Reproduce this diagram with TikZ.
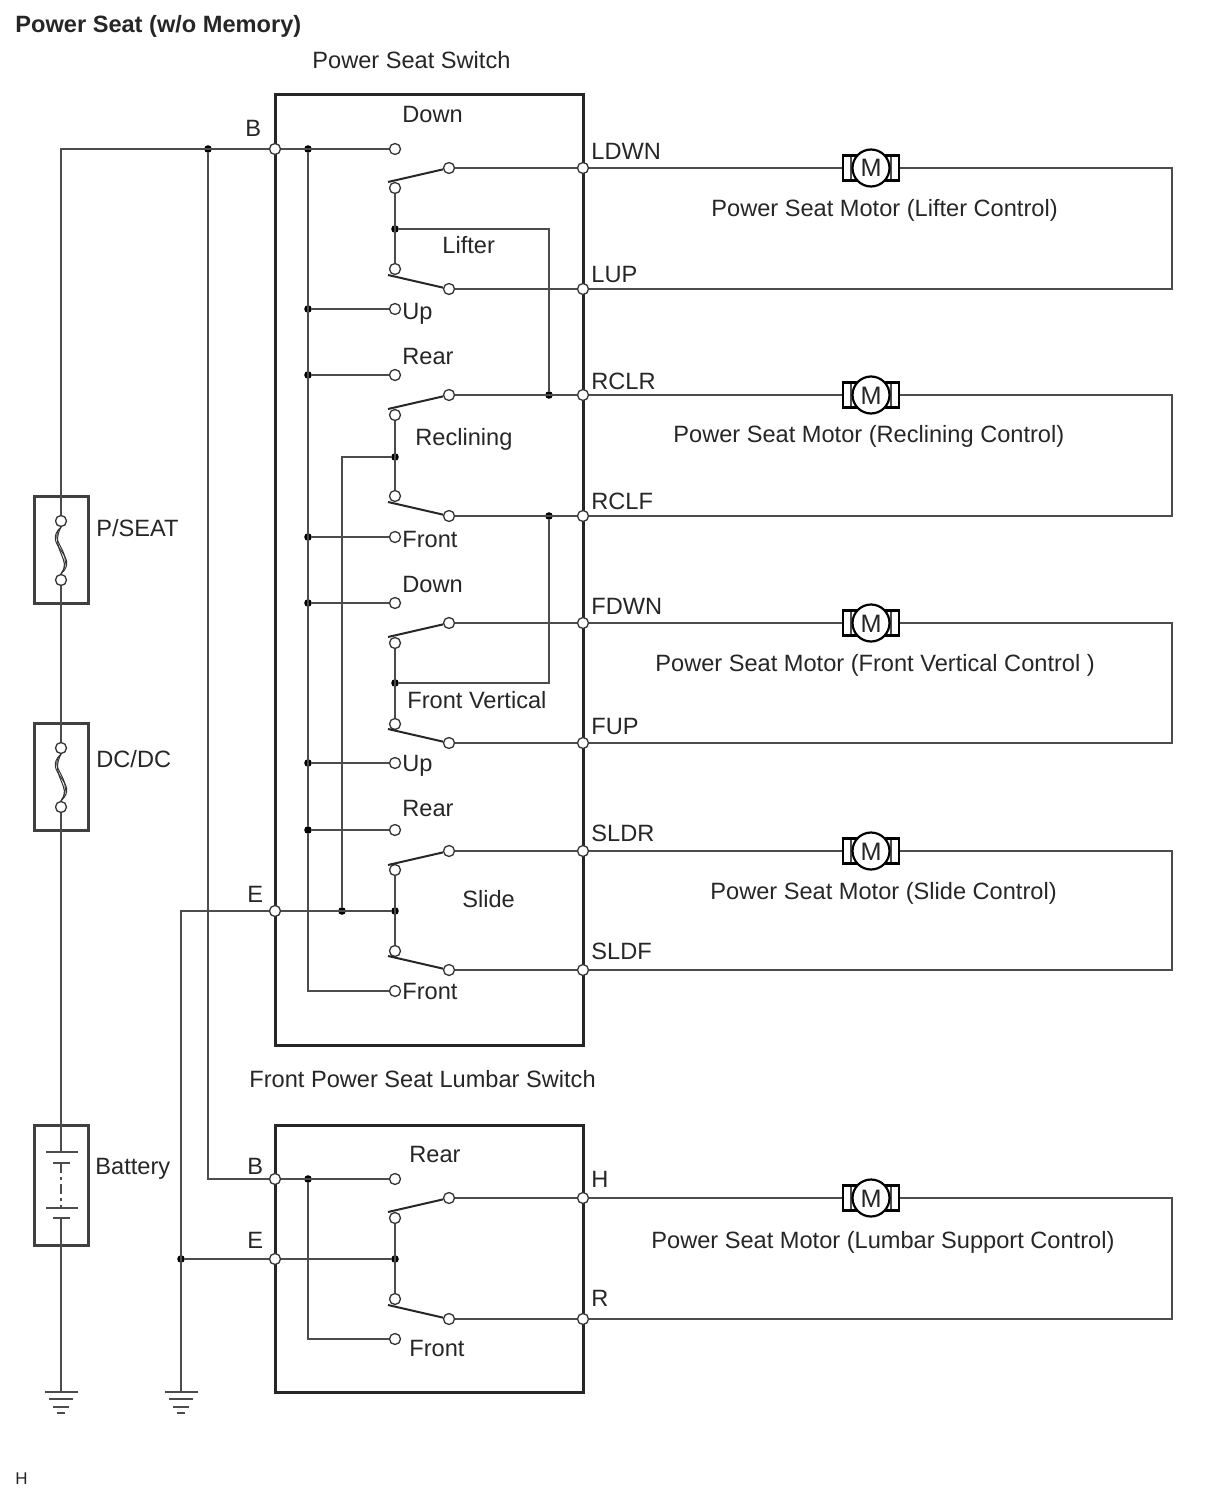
\documentclass[tikz,border=0pt]{standalone}
\usepackage{fontspec}
\setmainfont{Liberation Sans}
\begin{document}
\begin{tikzpicture}[x=0.5pt,y=-0.5pt]
\tikzset{term/.style = {shape=circle,draw=black!80,fill=white,line width=0.65pt,inner sep=0pt,minimum size=5.5pt}}
\tikzset{joint/.style = {shape=circle,fill=black,inner sep=0pt,minimum size=3.8pt}}
\tikzset{wire/.style = {draw=black!70,line width=1pt}}
\tikzset{arm/.style = {draw=black!85,line width=1pt}}
\tikzset{frame/.style = {draw=black!85,line width=1.5pt,inner sep=0pt}}
\tikzset{lbl/.style = {inner sep=0pt,text height=8.4pt,text depth=0pt,text=black!85,font=\fontsize{11.8}{13}\selectfont}}
\tikzset{left lbl/.style = {lbl,anchor=west}}
\tikzset{motor/.style = {shape=circle,draw=black,fill=white,line width=1.1pt,inner sep=0pt,minimum size=18.5pt,lbl,text height=9pt,font=\fontsize{12.6}{13}\selectfont}}
\tikzset{brush/.style = {draw=black,fill=white,line width=1.1pt,minimum width=28pt,minimum height=12.5pt,inner sep=0pt,
  path picture={\draw[black!70,line width=0.6pt] ([xshift=4pt]path picture bounding box.north west) -- ([xshift=4pt]path picture bounding box.south west);
  \draw[black!70,line width=0.6pt] ([xshift=-4pt]path picture bounding box.north east) -- ([xshift=-4pt]path picture bounding box.south east);}}}
\tikzset{earth/.style = {draw=black!70,line width=0.8pt}}
\useasboundingbox (0,0) rectangle (1210,1498);
% titles
\node[left lbl,font=\fontsize{11.8}{13}\selectfont\bfseries] (title) at (15,24) {Power Seat (w/o Memory)};
\node[left lbl] (swname) at (312,60) {Power Seat Switch};
\node[left lbl] (lumbname) at (249,1079) {Front Power Seat Lumbar Switch};
\node[left lbl,font=\fontsize{8.5}{10}\selectfont,text height=6pt] (code) at (15,1478) {H};
% switch boxes
\node[frame,minimum width=154pt,minimum height=475pt] (mainbox) at (429,570) {};
\node[frame,minimum width=154pt,minimum height=133.5pt] (lumbbox) at (429,1258.5) {};
% fuses and battery
\node[frame,draw=black!75,minimum width=27pt,minimum height=53.5pt] (fuse1) at (61,549.5) {};
\node[frame,draw=black!75,minimum width=27pt,minimum height=53.5pt] (fuse2) at (61,776.5) {};
\node[frame,draw=black!75,minimum width=27pt,minimum height=60pt] (batbox) at (61,1185) {};
\node[left lbl] (fuse1name) at (96,528) {P/SEAT};
\node[left lbl] (fuse2name) at (96,759) {DC/DC};
\node[left lbl] (batname) at (95,1166) {Battery};
\node[term] (f1a) at (61,521) {};
\node[term] (f1b) at (61,580) {};
\node[term] (f2a) at (61,748) {};
\node[term] (f2b) at (61,807) {};
\coordinate (bat1) at (61,1152);
\coordinate (bat2) at (61,1163);
\coordinate (bat3) at (61,1208);
\coordinate (bat4) at (61,1218);
\coordinate (gnd1) at (61,1392);
\coordinate (gnd2) at (181,1392);
% terminals on the left of the boxes
\node[left lbl] (bname) at (245,128) {B};
\node[left lbl] (ename) at (247,894) {E};
\node[left lbl] (b2name) at (247,1166) {B};
\node[left lbl] (e2name) at (247,1240) {E};
\node[term] (bt) at (275,149) {};
\node[term] (et) at (275,911) {};
\node[term] (b2t) at (275,1179) {};
\node[term] (e2t) at (275,1259) {};
\coordinate (bcorner) at (61,149);
\coordinate (ecorner) at (181,911);
\node[joint] (jb) at (208,149) {};
\node[joint] (je2) at (181,1259) {};
% common bus inside the main switch
\node[joint] (p1) at (308,149) {};
\node[joint] (p2) at (308,309) {};
\node[joint] (p3) at (308,375) {};
\node[joint] (p4) at (308,537) {};
\node[joint] (p5) at (308,603) {};
\node[joint] (p6) at (308,763) {};
\node[joint] (p7) at (308,830) {};
\node[joint] (jeb) at (342,911) {};
\node[joint] (jes) at (395,911) {};
% lifter
\node[left lbl] (n1) at (402,114) {Down};
\node[left lbl] (n2) at (402,311) {Up};
\node[left lbl] (lifter) at (442,245) {Lifter};
\node[left lbl] (ldwnname) at (591,151) {LDWN};
\node[left lbl] (lupname) at (591,274) {LUP};
\node[left lbl] (m1name) at (711,208) {Power Seat Motor (Lifter Control)};
\node[term] (a1) at (395,149) {};
\node[term] (a2) at (395,188) {};
\node[term] (a3) at (395,269) {};
\node[term] (a4) at (395,309) {};
\node[term] (c1) at (449,168) {};
\node[term] (c2) at (449,289) {};
\node[term] (ldwn) at (583,168) {};
\node[term] (lup) at (583,289) {};
\node[joint] (j1) at (395,229) {};
\node[joint] (j1r) at (549,395) {};
% reclining
\node[left lbl] (n3) at (402,356) {Rear};
\node[left lbl] (n4) at (402,539) {Front};
\node[left lbl] (recl) at (415,437) {Reclining};
\node[left lbl] (rclrname) at (591,381) {RCLR};
\node[left lbl] (rclfname) at (591,501) {RCLF};
\node[left lbl] (m2name) at (673,434) {Power Seat Motor (Reclining Control)};
\node[term] (a5) at (395,375) {};
\node[term] (a6) at (395,415) {};
\node[term] (a7) at (395,496) {};
\node[term] (a8) at (395,537) {};
\node[term] (c3) at (449,395) {};
\node[term] (c4) at (449,516) {};
\node[term] (rclr) at (583,395) {};
\node[term] (rclf) at (583,516) {};
\node[joint] (j2) at (395,457) {};
\node[joint] (j3r) at (549,516) {};
% front vertical
\node[left lbl] (n5) at (402,584) {Down};
\node[left lbl] (n6) at (402,763) {Up};
\node[left lbl] (fvert) at (407,700) {Front Vertical};
\node[left lbl] (fdwnname) at (591,606) {FDWN};
\node[left lbl] (fupname) at (591,726) {FUP};
\node[left lbl] (m3name) at (655,663) {Power Seat Motor (Front Vertical Control )};
\node[term] (a9) at (395,603) {};
\node[term] (a10) at (395,643) {};
\node[term] (a11) at (395,724) {};
\node[term] (a12) at (395,763) {};
\node[term] (c5) at (449,623) {};
\node[term] (c6) at (449,743) {};
\node[term] (fdwn) at (583,623) {};
\node[term] (fup) at (583,743) {};
\node[joint] (j3) at (395,683) {};
% slide
\node[left lbl] (n7) at (402,808) {Rear};
\node[left lbl] (n8) at (402,991) {Front};
\node[left lbl] (slide) at (462,899) {Slide};
\node[left lbl] (sldrname) at (591,833) {SLDR};
\node[left lbl] (sldfname) at (591,951) {SLDF};
\node[left lbl] (m4name) at (710,891) {Power Seat Motor (Slide Control)};
\node[term] (a13) at (395,830) {};
\node[term] (a14) at (395,870) {};
\node[term] (a15) at (395,951) {};
\node[term] (a16) at (395,991) {};
\node[term] (c7) at (449,851) {};
\node[term] (c8) at (449,970) {};
\node[term] (sldr) at (583,851) {};
\node[term] (sldf) at (583,970) {};
% lumbar
\node[left lbl] (n9) at (409,1154) {Rear};
\node[left lbl] (n10) at (409,1348) {Front};
\node[left lbl] (hname) at (591,1179) {H};
\node[left lbl] (rname) at (591,1298) {R};
\node[left lbl] (m5name) at (651,1240) {Power Seat Motor (Lumbar Support Control)};
\node[term] (a17) at (395,1179) {};
\node[term] (a18) at (395,1218) {};
\node[term] (a19) at (395,1299) {};
\node[term] (a20) at (395,1339) {};
\node[term] (c9) at (449,1198) {};
\node[term] (c10) at (449,1319) {};
\node[term] (hh) at (583,1198) {};
\node[term] (rr) at (583,1319) {};
\node[joint] (j5) at (395,1259) {};
\node[joint] (p8) at (308,1179) {};
% supply wires
\draw[wire] (bt) -- (bcorner) -- (f1a);
\draw[wire] (f1b) -- (f2a);
\draw[wire] (f2b) -- (bat1);
\draw[wire] (bat4) -- (gnd1);
\draw[wire] (jb) |- (b2t);
\draw[wire] (et) -- (ecorner) -- (gnd2);
\draw[wire] (je2) -- (e2t);
% fuse strands
\foreach \f in {1,2} {
  \draw[black!80,line width=0.5pt] (f\f a.south) .. controls +(-20,18) and +(20,-18) .. (f\f b.north);
  \draw[black!80,line width=0.5pt] (f\f a.south) .. controls +(-15,14) and +(15,-22) .. (f\f b.north);
  \draw[black!80,line width=0.5pt] (f\f a.south) .. controls +(-12,22) and +(12,-14) .. (f\f b.north);
}
% battery plates
\draw[earth,line width=1pt] (46,1152) -- (78,1152);
\draw[earth] (53,1163) -- (70,1163);
\draw[earth,dash pattern=on 5pt off 2pt on 1.5pt off 2pt] (bat2) -- (bat3);
\draw[earth,line width=1pt] (46,1208) -- (78,1208);
\draw[earth] (53,1218) -- (70,1218);
% earth symbols
\draw[earth] (45,1392) -- (78,1392) (49,1399) -- (73,1399) (53,1407) -- (69,1407) (57,1413) -- (65,1413);
\draw[earth] (165,1392) -- (198,1392) (169,1399) -- (193,1399) (173,1407) -- (189,1407) (177,1413) -- (185,1413);
% wires in the main switch
\draw[wire] (bt) -- (a1);
\draw[wire] (p1) -- (p7);
\draw[wire] (p7) |- (a16);
\draw[wire] (p2) -- (a4);
\draw[wire] (p3) -- (a5);
\draw[wire] (p4) -- (a8);
\draw[wire] (p5) -- (a9);
\draw[wire] (p6) -- (a12);
\draw[wire] (p7) -- (a13);
\draw[wire] (et) -- (jes);
\draw[wire] (jeb) |- (j2);
\draw[wire] (a2) -- (a3);
\draw[wire] (a6) -- (a7);
\draw[wire] (a10) -- (a11);
\draw[wire] (a14) -- (a15);
\draw[wire] (j1) -| (j1r);
\draw[wire] (j3) -| (j3r);
\draw[wire] (c1) -- (ldwn);
\draw[wire] (c2) -- (lup);
\draw[wire] (c3) -- (rclr);
\draw[wire] (c4) -- (rclf);
\draw[wire] (c5) -- (fdwn);
\draw[wire] (c6) -- (fup);
\draw[wire] (c7) -- (sldr);
\draw[wire] (c8) -- (sldf);
% wires in the lumbar switch
\draw[wire] (b2t) -- (a17);
\draw[wire] (p8) |- (a20);
\draw[wire] (e2t) -- (j5);
\draw[wire] (a18) -- (a19);
\draw[wire] (c9) -- (hh);
\draw[wire] (c10) -- (rr);
% switch arms
\draw[arm] (c1) -- ++(-61,14);
\draw[arm] (c2) -- ++(-61,-14);
\draw[arm] (c3) -- ++(-61,14);
\draw[arm] (c4) -- ++(-61,-14);
\draw[arm] (c5) -- ++(-61,14);
\draw[arm] (c6) -- ++(-61,-14);
\draw[arm] (c7) -- ++(-61,14);
\draw[arm] (c8) -- ++(-61,-14);
\draw[arm] (c9) -- ++(-61,14);
\draw[arm] (c10) -- ++(-61,-14);
% motor loops
\coordinate (e1) at (1172,168);
\coordinate (e2) at (1172,395);
\coordinate (e3) at (1172,623);
\coordinate (e4) at (1172,851);
\coordinate (e5) at (1172,1198);
\draw[wire] (ldwn) -- (e1) |- (lup);
\draw[wire] (rclr) -- (e2) |- (rclf);
\draw[wire] (fdwn) -- (e3) |- (fup);
\draw[wire] (sldr) -- (e4) |- (sldf);
\draw[wire] (hh) -- (e5) |- (rr);
% motors
\node[brush] (b1) at (871,168) {};
\node[motor] (m1) at (871,168) {M};
\node[brush] (b2) at (871,395) {};
\node[motor] (m2) at (871,395) {M};
\node[brush] (b3) at (871,623) {};
\node[motor] (m3) at (871,623) {M};
\node[brush] (b4) at (871,851) {};
\node[motor] (m4) at (871,851) {M};
\node[brush] (b5) at (871,1198) {};
\node[motor] (m5) at (871,1198) {M};
\end{tikzpicture}
\end{document}
